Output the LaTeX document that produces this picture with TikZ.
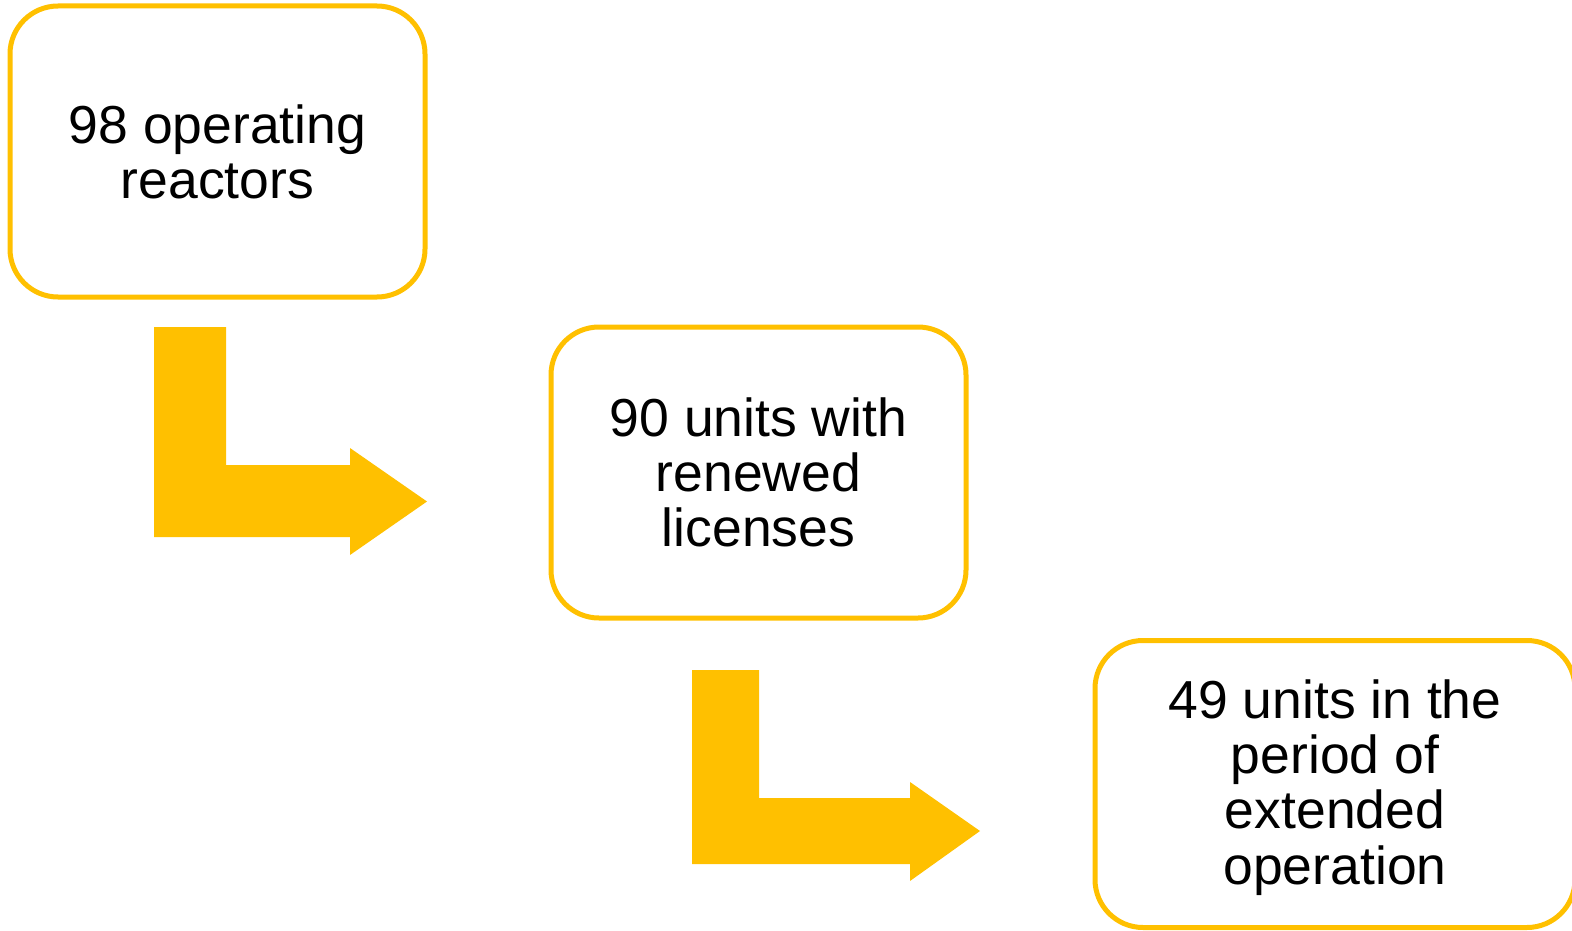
\documentclass[tikz,border=0pt]{standalone}
\usepackage{fontspec}
\setmainfont{Liberation Sans}
\definecolor{gold}{HTML}{FFC000}
\begin{document}
\begin{tikzpicture}[x=1pt,y=-1pt,
  box/.style={draw=gold, line width=5pt, rounded corners=48pt, fill=white, outer sep=0pt,
    minimum width=415pt, minimum height=291pt, align=center, inner sep=0pt,
    font=\fontsize{53.5}{55}\selectfont},
  blockarrow/.style={fill=gold, draw=none}]
\useasboundingbox (0,0) rectangle (1572,931);
\clip (0,0) rectangle (1572,931);
\node[box] (b1) at (217.5,151.5) {98 operating\\reactors};
\node[box] (b2) at (758.5,472.5) {90 units with\\renewed\\licenses};
\node[box, minimum width=480pt, minimum height=287pt] (b3) at (1335,784)
  {\raisebox{-6pt}[\height][\depth]{\begin{tabular}{@{}c@{}}49 units in the\\period of\\extended\\operation\end{tabular}}};
\fill[blockarrow] (154,327) -- (226,327) -- (226,465) -- (350,465) -- (350,448) -- (427,501.5) -- (350,555) -- (350,537) -- (154,537) -- cycle;
\fill[blockarrow] (692,670) -- (759,670) -- (759,798) -- (910,798) -- (910,782) -- (980,831) -- (910,881) -- (910,864) -- (692,864) -- cycle;
\end{tikzpicture}
\end{document}
